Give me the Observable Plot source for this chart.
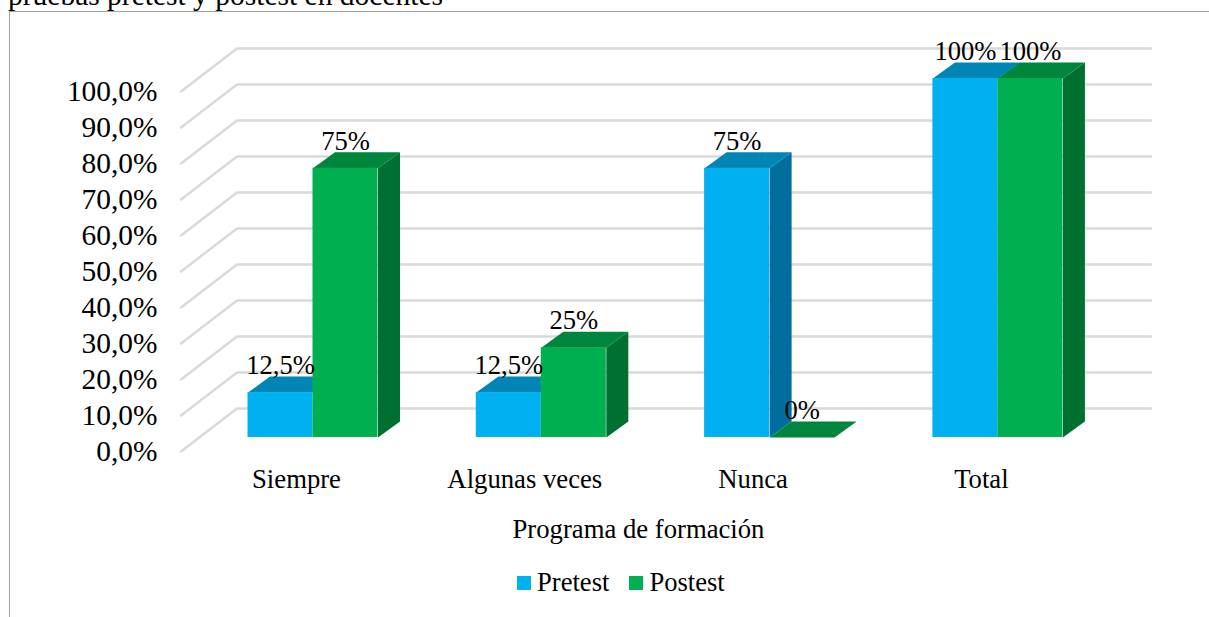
<!DOCTYPE html>
<html lang="es">
<head>
<meta charset="utf-8">
<script src="https://cdn.jsdelivr.net/npm/d3@7"></script>
<script src="https://cdn.jsdelivr.net/npm/@observablehq/plot@0.6"></script>
<style>
  html, body { margin: 0; padding: 0; background: #fff; overflow: hidden; }
  body { width: 1209px; height: 617px; position: relative; font-family: "Liberation Serif", serif; color: #000; }
  #chart { position: absolute; left: 0; top: 0; }
  #frame { position: absolute; left: 9px; top: 11px; right: 0; bottom: 0; border-top: 1px solid #a0a0a0; border-left: 1px solid #a0a0a0; pointer-events: none; }
  #title { position: absolute; left: 8px; top: -20px; font-size: 29.5px; line-height: 30px; white-space: nowrap; }
  #legend { position: absolute; left: 517px; top: 566px; }
  #legend svg { margin-right: 6px !important; }
  #legend span { margin-right: 20px !important; }
</style>
</head>
<body>
<div id="chart"></div>
<div id="frame"></div>
<div id="title">pruebas pretest y postest en docentes</div>
<div id="legend"></div>
<script>
const categories = ["Siempre", "Algunas veces", "Nunca", "Total"];
const pretest = [12.5, 12.5, 75, 100];
const postest = [75, 25, 0, 100];
const pretestLabels = ["12,5%", "12,5%", "75%", "100%"];
const postestLabels = ["75%", "25%", "0%", "100%"];
const yTicks = [0, 10, 20, 30, 40, 50, 60, 70, 80, 90, 100];
const seriesNames = ["Pretest", "Postest"];
const seriesColors = ["#00B0F0", "#00B050"];
const topColors = ["#0085B5", "#00853D"];
const sideColors = ["#006E9C", "#007030"];
const xAxisTitle = "Programa de formación";

// Pseudo-3D geometry, in scale units (x: one category = 1, y: percentage points)
const barWidth = 0.2847, barStart = -0.2124;
const depthX = 0.0964, depthY = 4.45;
const floorY = 3.9;              // the bars' front edge stands this far above the axis plane
const barScale = 0.997;          // bars are drawn in a plane slightly nearer than the axis
const wallX = -0.2453, wallY = 11.94;   // back wall offset from the axis plane
const xMin = -0.5059, xMax = 3.7429;

const bars = [pretest, postest].flatMap((vals, s) => vals.map((v, i) => ({
  x1: i + barStart + s * barWidth,
  x2: i + barStart + (s + 1) * barWidth,
  base: floorY,
  top: v * barScale + floorY,
  s,
  id: `${s}-${i}`,
  label: (s ? postestLabels : pretestLabels)[i]
})));

const faces = bars.flatMap(b => {
  const top = [[b.x1, b.top], [b.x2, b.top], [b.x2 + depthX, b.top + depthY], [b.x1 + depthX, b.top + depthY]];
  const side = [[b.x2, b.base], [b.x2 + depthX, b.base + depthY], [b.x2 + depthX, b.top + depthY], [b.x2, b.top]];
  return [
    ...side.map(([x, y]) => ({ x, y, id: b.id + "-side", color: sideColors[b.s] })),
    ...top.map(([x, y]) => ({ x, y, id: b.id + "-top", color: topColors[b.s] }))
  ];
});

const grid = yTicks.flatMap(t => [
  { x: xMin, y: t, t },
  { x: xMin - wallX, y: t + wallY, t },
  { x: xMax, y: t + wallY, t }
]);

const chart = Plot.plot({
  width: 1209,
  height: 617,
  marginTop: 91,
  marginBottom: 166,
  marginLeft: 180.5,
  marginRight: 58.5,
  style: { fontFamily: "'Liberation Serif', serif", color: "#000", background: "transparent" },
  x: { type: "linear", domain: [xMin, xMax] },
  y: { domain: [0, 100] },
  marks: [
    Plot.line(grid, { x: "x", y: "y", z: "t", stroke: "#D9D9D9", strokeWidth: 2.4, curve: "linear" }),
    Plot.axisY(yTicks, {
      anchor: "left", tickSize: 0, tickPadding: 23.5, fontSize: 29.4, label: null,
      tickFormat: t => t.toFixed(1).replace(".", ",") + "%"
    }),
    Plot.axisX([0, 1, 2, 3], {
      anchor: "bottom", tickSize: 0, tickPadding: 17.5, fontSize: 26.7, label: null,
      tickFormat: i => categories[i]
    }),
    Plot.line(faces, { x: "x", y: "y", z: "id", fill: "color", stroke: "none", curve: "linear" }),
    Plot.rect(bars, { x1: "x1", x2: "x2", y1: "base", y2: "top", fill: d => seriesColors[d.s] }),
    Plot.text(bars, {
      x: d => (d.x1 + d.x2) / 2, y: "top", text: "label",
      dy: -27, fontSize: 26.6, fill: "#000", lineAnchor: "middle"
    }),
    Plot.text([xAxisTitle], {
      x: [1.498], frameAnchor: "bottom", dy: 77.5, fontSize: 26.7, fill: "#000", lineAnchor: "middle"
    })
  ]
});
document.getElementById("chart").append(chart);

const legend = Plot.legend({
  color: { type: "ordinal", domain: seriesNames, range: seriesColors },
  swatchSize: 14,
  style: { fontFamily: "'Liberation Serif', serif", fontSize: "26.6px", color: "#000" }
});
document.getElementById("legend").append(legend);
</script>
</body>
</html>
